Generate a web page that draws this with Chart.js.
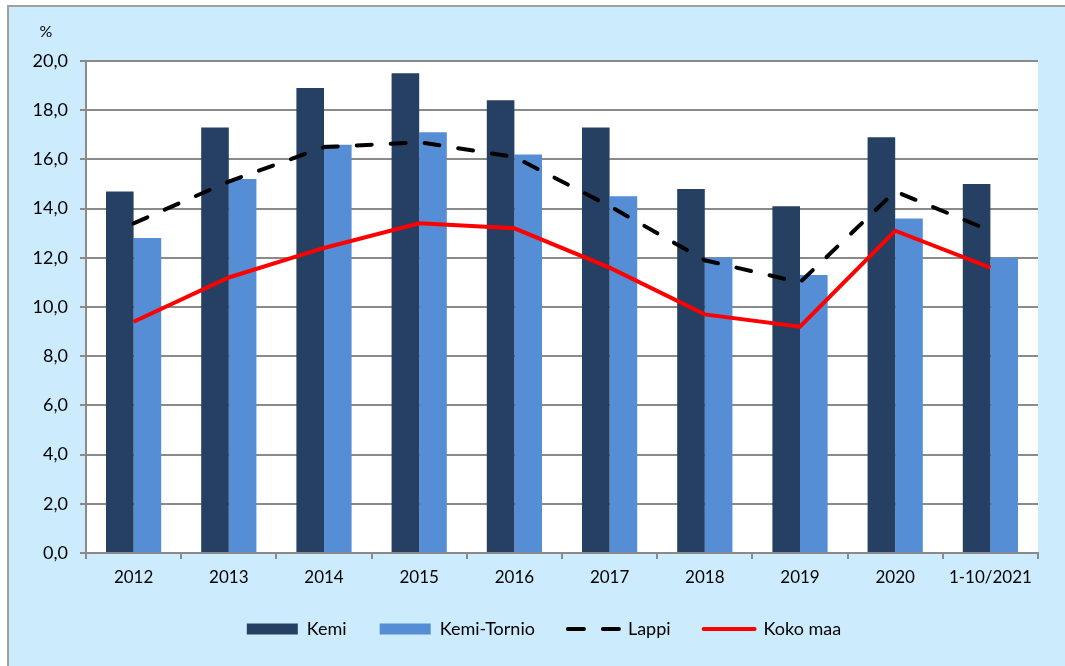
<!DOCTYPE html>
<html>
<head>
<meta charset="utf-8">
<script src="https://cdn.jsdelivr.net/npm/chart.js@4/dist/chart.umd.min.js"></script>
<style>
  body { margin: 0; background: #fff; overflow: hidden; }
  #frame { position: absolute; left: 7px; top: 5px; width: 1070px; height: 670px;
           background: #CCECFE; border-left: 2px solid #a0a0a0; border-top: 2px solid #a0a0a0; }
  #wrap { position: absolute; left: 0; top: 0; width: 1065px; height: 666px; }
</style>
</head>
<body>
<div id="frame"></div>
<div id="wrap"><canvas id="chart" width="1065" height="666"></canvas></div>
<script>
// years on the x axis
const years = ['2012', '2013', '2014', '2015', '2016', '2017', '2018', '2019', '2020', '1-10/2021'];
// values (%)
const kemi       = [14.7, 17.3, 18.9, 19.5, 18.4, 17.3, 14.8, 14.1, 16.9, 15.0];
const kemiTornio = [12.8, 15.2, 16.6, 17.1, 16.2, 14.5, 12.0, 11.3, 13.6, 12.0];
const lappi      = [13.4, 15.1, 16.5, 16.7, 16.1, 14.1, 11.9, 11.0, 14.7, 13.1];
const kokoMaa    = [9.4, 11.2, 12.4, 13.4, 13.2, 11.6, 9.7, 9.2, 13.1, 11.6];

const fontFam = 'Lato, "Open Sans", sans-serif';
const gridGray = '#8a8a8a';

// white plot area, the "%" label and a small nudge of the legend to the right
const plotBg = {
    id: 'plotBg',
    afterLayout(chart) {
        // legend in the original sits a bit right of centre
        if (chart.legend) {
            chart.legend.left += 25;
            chart.legend.right += 25;
        }
    },
    beforeDraw(chart) {
        const a = chart.chartArea, ctx = chart.ctx;
        ctx.save();
        ctx.fillStyle = '#ffffff';
        ctx.fillRect(a.left, a.top, a.right - a.left, a.bottom - a.top);
        ctx.restore();
    },
    afterDraw(chart) {
        const ctx = chart.ctx;
        ctx.save();
        ctx.font = '16px ' + fontFam;
        ctx.fillStyle = '#000';
        ctx.textAlign = 'center';
        ctx.textBaseline = 'middle';
        ctx.fillText('%', 46, 32);
        ctx.restore();
    }
};

var ctx = document.getElementById('chart').getContext('2d');
var myChart = new Chart(ctx, {
    data: {
        labels: years,
        datasets: [
            {type: 'bar', label: 'Kemi', data: kemi, backgroundColor: '#264063', borderWidth: 0, order: 2},
            {type: 'bar', label: 'Kemi-Tornio', data: kemiTornio, backgroundColor: '#558ED5', borderWidth: 0, order: 2},
            {type: 'line', label: 'Lappi', data: lappi, borderColor: '#000000', backgroundColor: '#000000',
             borderWidth: 4, borderDash: [15, 19], borderCapStyle: 'round', pointRadius: 0, tension: 0, order: 1},
            {type: 'line', label: 'Koko maa', data: kokoMaa, borderColor: '#ff0000', backgroundColor: '#ff0000',
             borderWidth: 4, pointRadius: 0, tension: 0, order: 0}
        ]
    },
    options: {
        responsive: false,
        animation: false,
        layout: { padding: { top: 61, left: 0, right: 27, bottom: 18 } },
        categoryPercentage: 0.58,
        barPercentage: 1.0,
        plugins: {
            tooltip: { enabled: false },
            legend: {
                position: 'bottom',
                labels: {
                    usePointStyle: true,
                    pointStyleWidth: 51,
                    boxHeight: 11,
                    padding: 33,
                    color: '#000',
                    font: { family: fontFam, size: 18 },
                    generateLabels(chart) {
                        return chart.data.datasets.map((ds, i) => ({
                            text: ds.label,
                            fillStyle: ds.backgroundColor,
                            strokeStyle: ds.type == 'line' ? ds.borderColor : 'rgba(0,0,0,0)',
                            lineWidth: ds.type == 'line' ? 4 : 0,
                            lineDash: ds.borderDash ? [16, 19] : [],
                            lineCap: 'round',
                            pointStyle: ds.type == 'line' ? 'line' : 'rect',
                            fontColor: '#000',
                            hidden: false,
                            datasetIndex: i
                        }));
                    }
                }
            }
        },
        scales: {
            x: {
                afterFit(scale) { scale.height = 34; },
                grid: { offset: true, drawOnChartArea: false, drawTicks: true, tickLength: 6, color: gridGray, lineWidth: 2 },
                border: { color: gridGray, width: 2 },
                ticks: { color: '#000', padding: 8, font: { family: fontFam, size: 17 }, maxRotation: 0 }
            },
            y: {
                min: 0,
                max: 20,
                afterFit(scale) { scale.width = 86; },
                grid: { color: gridGray, lineWidth: 2, tickLength: 6 },
                border: { color: gridGray, width: 2 },
                ticks: {
                    stepSize: 2,
                    color: '#000',
                    padding: 12,
                    font: { family: fontFam, size: 18 },
                    callback: v => v.toFixed(1).replace('.', ',')
                }
            }
        }
    },
    plugins: [plotBg]
});
</script>
</body>
</html>
